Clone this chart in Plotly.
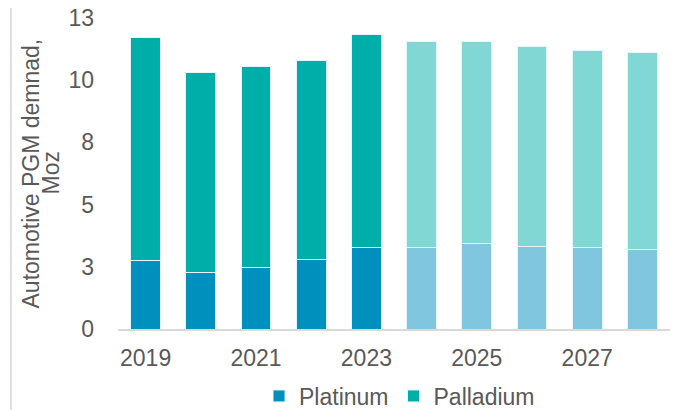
import plotly.graph_objects as go

years = [2019, 2020, 2021, 2022, 2023, 2024, 2025, 2026, 2027, 2028]
platinum = [2.75, 2.28, 2.48, 2.80, 3.26, 3.26, 3.42, 3.31, 3.26, 3.21]
total = [11.72, 10.29, 10.54, 10.80, 11.83, 11.56, 11.56, 11.36, 11.20, 11.11]
palladium = [round(t - p, 2) for t, p in zip(total, platinum)]
forecast = [False, False, False, False, False, True, True, True, True, True]

ytickvals = [0, 2.5, 5, 7.5, 10, 12.5]
yticktext = ["0", "3", "5", "8", "10", "13"]
xtickvals = [2019, 2021, 2023, 2025, 2027]

PT_HIST, PT_FC = "#0090BD", "#80C6DE"
PD_HIST, PD_FC = "#00AEA9", "#80D7D4"

pt_colors = [PT_FC if f else PT_HIST for f in forecast]
pd_colors = [PD_FC if f else PD_HIST for f in forecast]

FONT = "Liberation Sans, Arial, sans-serif"
GREY = "#595959"
FS = 23

# page has an 8px body margin; figure is sized so the plot area lands at
# page x 118..670, y 18..329
W, H = 672, 402
fig = go.Figure()
fig.add_trace(go.Bar(x=years, y=platinum, name="Platinum",
                     marker=dict(color=pt_colors, line=dict(color="#E6F6F8", width=1))))
fig.add_trace(go.Bar(x=years, y=palladium, name="Palladium",
                     marker=dict(color=pd_colors, line=dict(color="#E6F6F8", width=1))))

fig.update_layout(
    width=W, height=H,
    margin=dict(l=110, r=10, t=10, b=81, autoexpand=False),
    barmode="stack", bargap=0.457,
    plot_bgcolor="white", paper_bgcolor="white",
    font=dict(family=FONT, size=FS, color=GREY),
    showlegend=True,
    legend=dict(orientation="h", x=0.51, xanchor="center",
                yref="container", y=1 - 388 / H, yanchor="middle",
                font=dict(size=FS, color=GREY), traceorder="normal", itemwidth=30),
    xaxis=dict(tickmode="array", tickvals=xtickvals, ticktext=[str(v) for v in xtickvals],
               showgrid=False, showline=True, linecolor="#D9D9D9", linewidth=2,
               ticks="", ticklabelstandoff=7, range=[2018.5, 2028.5],
               tickfont=dict(size=FS, color=GREY)),
    yaxis=dict(range=[0, 12.5], tickmode="array", tickvals=ytickvals, ticktext=yticktext,
               showgrid=False, zeroline=False, showline=False, ticks="",
               ticklabelstandoff=23, ticklabeloverflow="allow",
               tickfont=dict(size=FS, color=GREY)),
)

for txt, px in [("Automotive PGM demnad,", 30), ("Moz", 50)]:
    fig.add_annotation(text=txt, textangle=-90,
                       xref="paper", yref="paper", x=(px - 118) / 552, y=0.5,
                       xanchor="center", yanchor="middle", showarrow=False,
                       font=dict(size=FS, color=GREY, family=FONT))

fig.add_shape(type="line", xref="paper", yref="paper",
              x0=(11 - 118) / 552, x1=(11 - 118) / 552, y0=-81 / 311, y1=1 + 10 / 311,
              line=dict(color="#BFBFBF", width=1))

fig.write_html("out.html")
